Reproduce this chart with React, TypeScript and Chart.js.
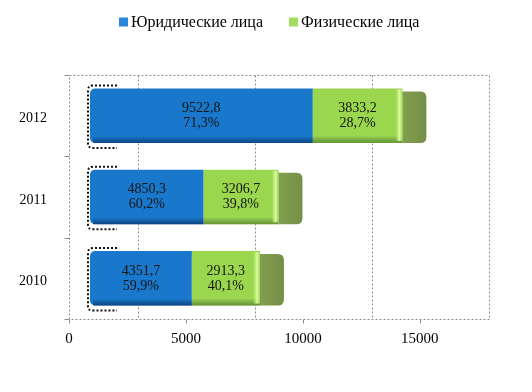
import React, { useEffect, useRef } from 'react';
import { Chart, registerables } from 'chart.js';

Chart.register(...registerables);

const years = ['2012', '2011', '2010'];
const seriesNames = ['Юридические лица', 'Физические лица'];
const legalValues = [9522.8, 4850.3, 4351.7];
const individualValues = [3833.2, 3206.7, 2913.3];
const legalShares = ['71,3%', '60,2%', '59,9%'];
const individualShares = ['28,7%', '39,8%', '40,1%'];
const xTickValues = [0, 5000, 10000, 15000];
const xMax = 18000;

const SERIF = "'Liberation Serif', 'Times New Roman', serif";
const BAR_SHIFT = 21;
const BACK_SHIFT = 69;
const SIDE_DEPTH = 24;
const BLUE = '#1a78cc';
const GREEN = '#9ad64e';

const fmt = (v: number) => v.toFixed(1).replace('.', ',');

function roundRightRect(ctx: CanvasRenderingContext2D, x: number, y: number, w: number, h: number, r: number) {
  ctx.beginPath();
  ctx.moveTo(x, y);
  ctx.lineTo(x + w - r, y);
  ctx.quadraticCurveTo(x + w, y, x + w, y + r);
  ctx.lineTo(x + w, y + h - r);
  ctx.quadraticCurveTo(x + w, y + h, x + w - r, y + h);
  ctx.lineTo(x, y + h);
  ctx.closePath();
}

const decorPlugin = {
  id: 'decor3d',
  beforeDatasetsDraw(chart: any) {
    const { ctx, chartArea: a, scales } = chart;
    const xs = scales.x;
    const ys = scales.y;
    ctx.save();
    ctx.strokeStyle = '#8c8c8c';
    ctx.lineWidth = 1;
    ctx.setLineDash([2, 2]);
    const L = Math.round(a.left) + 0.5;
    const R = Math.round(a.right) - 0.5;
    const T = Math.round(a.top) + 0.5;
    const B = Math.round(a.bottom) + 0.5;
    ctx.beginPath();
    ctx.moveTo(L, T); ctx.lineTo(R, T); ctx.lineTo(R, B); ctx.lineTo(L, B); ctx.closePath();
    ctx.stroke();
    xTickValues.forEach((v) => {
      const px = Math.round(xs.getPixelForValue(v) + BACK_SHIFT) + 0.5;
      if (px < R - 2) {
        ctx.beginPath(); ctx.moveTo(px, T); ctx.lineTo(px, B); ctx.stroke();
      }
    });
    const centers = years.map((_, i) => ys.getPixelForValue(i));
    const bounds = [a.top];
    for (let i = 0; i < centers.length - 1; i++) bounds.push((centers[i] + centers[i + 1]) / 2);
    bounds.push(a.bottom);
    ctx.setLineDash([]);
    bounds.forEach((b) => {
      const yy = Math.round(b) + 0.5;
      ctx.beginPath(); ctx.moveTo(L - 5, yy); ctx.lineTo(L, yy); ctx.stroke();
    });
    xTickValues.forEach((v) => {
      const px = Math.round(xs.getPixelForValue(v)) + 0.5;
      ctx.beginPath(); ctx.moveTo(px, B); ctx.lineTo(px, B + 4); ctx.stroke();
    });
    ctx.restore();
    ctx.save();
    ctx.translate(BAR_SHIFT, 0);
  },
  afterDatasetsDraw(chart: any) {
    const { ctx } = chart;
    const nSets = chart.data.datasets.length;
    for (let di = 0; di < nSets; di++) {
      const meta = chart.getDatasetMeta(di);
      meta.data.forEach((el: any) => {
        const p = el.getProps(['x', 'y', 'base', 'height'], true);
        const top = p.y - p.height / 2;
        const bot = p.y + p.height / 2;
        const x0 = Math.min(p.x, p.base);
        const x1 = Math.max(p.x, p.base);
        const g = ctx.createLinearGradient(0, bot - 7, 0, bot);
        g.addColorStop(0, 'rgba(0,20,60,0)');
        g.addColorStop(1, di === 0 ? 'rgba(0,25,70,0.55)' : 'rgba(40,70,10,0.45)');
        ctx.fillStyle = g;
        ctx.fillRect(x0 + (di === 0 ? 3 : 0), bot - 7, x1 - x0 - (di === 0 ? 3 : 0), 7);
        if (di === nSets - 1) {
          const sg = ctx.createLinearGradient(x1, 0, x1 + SIDE_DEPTH, 0);
          sg.addColorStop(0, '#819f4e');
          sg.addColorStop(1, '#758f48');
          ctx.fillStyle = sg;
          roundRightRect(ctx, x1, top + 3, SIDE_DEPTH, bot - top - 3, 6);
          ctx.fill();
          const hg = ctx.createLinearGradient(x1 - 7, 0, x1, 0);
          hg.addColorStop(0, 'rgba(200,245,130,0)');
          hg.addColorStop(0.6, 'rgba(225,255,170,0.95)');
          hg.addColorStop(1, 'rgba(170,220,100,0.6)');
          ctx.fillStyle = hg;
          ctx.fillRect(x1 - 7, top + 1, 7, bot - top - 3);
        }
        if (di === 0) {
          ctx.save();
          ctx.strokeStyle = '#111';
          ctx.lineWidth = 2;
          ctx.setLineDash([2, 2]);
          ctx.beginPath();
          ctx.moveTo(x0 + 27, top - 3);
          ctx.lineTo(x0 + 3, top - 3);
          ctx.quadraticCurveTo(x0 - 2, top - 3, x0 - 2, top + 2);
          ctx.lineTo(x0 - 2, bot + 1);
          ctx.quadraticCurveTo(x0 - 2, bot + 5, x0 + 3, bot + 5);
          ctx.lineTo(x0 + 27, bot + 5);
          ctx.stroke();
          ctx.restore();
        }
      });
    }
    const shares = [legalShares, individualShares];
    ctx.fillStyle = '#141414';
    ctx.font = `14px ${SERIF}`;
    ctx.textAlign = 'center';
    ctx.textBaseline = 'middle';
    for (let di = 0; di < nSets; di++) {
      const meta = chart.getDatasetMeta(di);
      const values = chart.data.datasets[di].data as number[];
      meta.data.forEach((el: any, i: number) => {
        const p = el.getProps(['x', 'y', 'base'], true);
        const cx = (p.x + p.base) / 2;
        ctx.fillText(fmt(values[i]), cx, p.y - 7.5);
        ctx.fillText(shares[di][i], cx, p.y + 7.5);
      });
    }
    ctx.restore();
  },
  afterDraw(chart: any) {
    const { ctx } = chart;
    const colors = ['#2a86d8', '#a4dc5e'];
    ctx.save();
    ctx.font = `16px ${SERIF}`;
    ctx.textBaseline = 'middle';
    ctx.textAlign = 'left';
    const box = 9;
    const gapText = 3;
    const gapItem = 26;
    const labels = chart.data.datasets.map((d: any) => d.label as string);
    const widths = labels.map((t: string) => box + gapText + ctx.measureText(t).width);
    const total = widths.reduce((s: number, w: number) => s + w, 0) + gapItem * (labels.length - 1);
    let x = Math.round(chart.width / 2 - total / 2) + 3;
    const yc = 22;
    labels.forEach((t: string, i: number) => {
      ctx.fillStyle = colors[i];
      ctx.fillRect(x, yc - box / 2, box, box);
      ctx.fillStyle = '#000';
      ctx.fillText(t, x + box + gapText, yc + 1);
      x += widths[i] + gapItem;
    });
    ctx.restore();
  },
};

export default function App() {
  const ref = useRef<HTMLCanvasElement>(null);
  useEffect(() => {
    document.body.style.margin = '0';
    const canvas = ref.current;
    if (!canvas) return;
    const chart = new Chart(canvas, {
      type: 'bar',
      data: {
        labels: years,
        datasets: [
          {
            label: seriesNames[0],
            data: legalValues,
            backgroundColor: BLUE,
            borderWidth: 0,
            borderSkipped: false,
            borderRadius: { topLeft: 5, bottomLeft: 5, topRight: 0, bottomRight: 0 },
            barPercentage: 0.67,
            categoryPercentage: 1,
          },
          {
            label: seriesNames[1],
            data: individualValues,
            backgroundColor: GREEN,
            borderWidth: 0,
            borderSkipped: false,
            borderRadius: 0,
            barPercentage: 0.67,
            categoryPercentage: 1,
          },
        ],
      },
      options: {
        indexAxis: 'y',
        responsive: false,
        animation: false,
        layout: { padding: { top: 75, right: 42, left: 0, bottom: 0 } },
        plugins: {
          legend: { display: false },
          tooltip: { enabled: false },
        },
        scales: {
          x: {
            type: 'linear',
            stacked: true,
            min: 0,
            max: xMax,
            grid: { display: false, drawTicks: false },
            border: { display: false },
            afterBuildTicks: (s: any) => { s.ticks = xTickValues.map((v) => ({ value: v })); },
            ticks: {
              autoSkip: false,
              maxRotation: 0,
              padding: 11,
              color: '#000',
              font: { family: SERIF, size: 15 },
              callback: (v: any) => String(v),
            },
            afterFit: (s: any) => { s.height = 392 - 319; },
          },
          y: {
            type: 'category',
            stacked: true,
            grid: { display: false, drawTicks: false },
            border: { display: false },
            ticks: {
              padding: 22,
              labelOffset: 3,
              color: '#000',
              font: { family: SERIF, size: 14 },
            },
            afterFit: (s: any) => { s.width = 69; },
          },
        },
      },
      plugins: [decorPlugin],
    } as any);
    return () => chart.destroy();
  }, []);
  return (
    <div style={{ width: 532, height: 392 }}>
      <canvas ref={ref} width={532} height={392} style={{ display: 'block' }} />
    </div>
  );
}
